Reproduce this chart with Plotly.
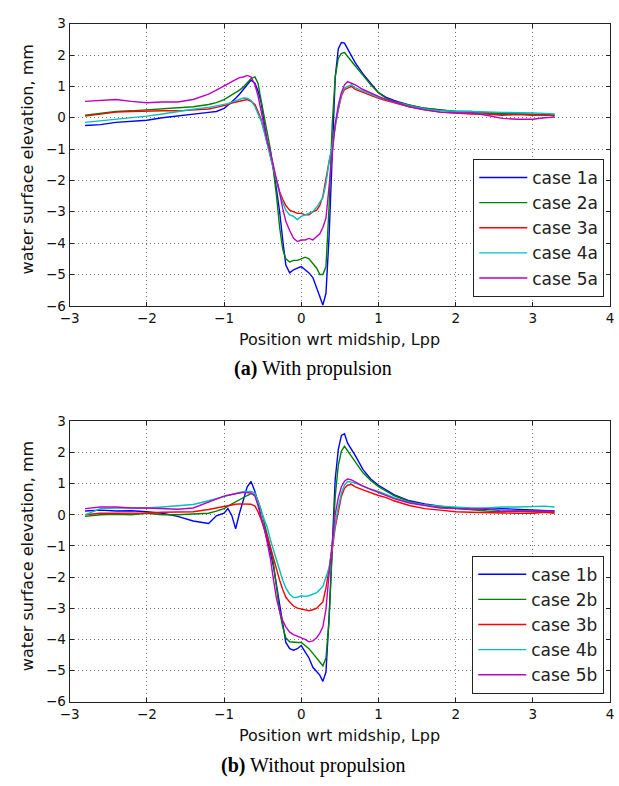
import plotly.graph_objects as go

# Position wrt midship (Lpp) - common sampling for all series
X = [-2.8, -2.6, -2.4, -2.2, -2.0, -1.8, -1.6, -1.4, -1.2,
     -1.1, -1.0,
     -0.95, -0.9, -0.85, -0.8, -0.75, -0.7, -0.65, -0.6,
     -0.56, -0.52, -0.48, -0.44, -0.4, -0.36, -0.32, -0.28, -0.24, -0.2,
     -0.15, -0.1, -0.05, 0.0, 0.05, 0.1, 0.15, 0.2,
     0.24, 0.28, 0.32, 0.36, 0.4, 0.44, 0.48, 0.52, 0.56, 0.6,
     0.65, 0.7, 0.8, 0.9, 1.0, 1.1, 1.2,
     1.4, 1.6, 1.8, 2.0, 2.2, 2.4, 2.6, 2.8, 3.0,
     3.15, 3.28]

# (a) With propulsion
case_1a = [-0.25, -0.22, -0.15, -0.12, -0.08, 0.0, 0.05, 0.1, 0.17,
           0.2, 0.3,
           0.4, 0.5, 0.62, 0.75, 0.9, 1.05, 1.2, 1.1,
           0.85, 0.5, -0.15, -0.8, -1.1, -1.6, -2.3, -3.0, -3.9, -4.7,
           -4.95, -4.85, -4.8, -4.75, -4.85, -4.95, -5.1, -5.4,
           -5.7, -5.98, -5.6, -3.8, -0.9, 1.3, 2.2, 2.4, 2.38, 2.2,
           1.95, 1.75, 1.4, 1.1, 0.8, 0.65, 0.55,
           0.4, 0.3, 0.25, 0.2, 0.2, 0.15, 0.12, 0.12, 0.1,
           0.1, 0.08]
case_2a = [0.08, 0.15, 0.2, 0.22, 0.25, 0.28, 0.3, 0.35, 0.42,
           0.48, 0.58,
           0.65, 0.72, 0.8, 0.88, 0.98, 1.1, 1.25, 1.3,
           1.1, 0.55, 0.0, -0.55, -1.0, -1.7, -2.5, -3.5, -4.2, -4.5,
           -4.6, -4.55, -4.55, -4.5, -4.45, -4.5, -4.65, -4.8,
           -5.0, -5.0, -4.75, -2.85, -0.25, 1.3, 1.9, 2.05, 2.08, 1.95,
           1.8, 1.65, 1.35, 1.05, 0.8, 0.62, 0.52,
           0.4, 0.3, 0.25, 0.2, 0.18, 0.15, 0.12, 0.12, 0.1,
           0.1, 0.08]
case_3a = [0.05, 0.12, 0.18, 0.2, 0.22, 0.22, 0.22, 0.25, 0.28,
           0.33, 0.38,
           0.42, 0.47, 0.5, 0.53, 0.55, 0.58, 0.52, 0.42,
           0.2, -0.05, -0.4, -0.85, -1.3, -1.65, -2.0, -2.35, -2.6, -2.8,
           -2.95, -3.0, -3.05, -3.05, -3.1, -3.1, -3.0, -2.95,
           -2.8, -2.5, -1.9, -1.4, -0.95, -0.25, 0.25, 0.7, 0.9, 0.95,
           1.0, 0.9, 0.8, 0.7, 0.62, 0.55, 0.48,
           0.35, 0.25, 0.18, 0.15, 0.12, 0.12, 0.08, 0.1, 0.08,
           0.1, 0.05]
case_4a = [-0.15, -0.1, -0.05, -0.02, 0.05, 0.12, 0.2, 0.27, 0.33,
           0.37, 0.42,
           0.45, 0.5, 0.55, 0.6, 0.63, 0.62, 0.55, 0.35,
           0.1, -0.1, -0.45, -0.85, -1.25, -1.6, -2.0, -2.4, -2.7, -2.95,
           -3.1, -3.15, -3.25, -3.15, -3.1, -3.05, -3.0, -2.85,
           -2.7, -2.55, -2.1, -1.4, -0.9, -0.3, 0.3, 0.75, 0.95, 1.0,
           1.05, 0.95, 0.85, 0.75, 0.65, 0.58, 0.5,
           0.38, 0.28, 0.22, 0.2, 0.18, 0.18, 0.17, 0.15, 0.15,
           0.14, 0.12]
case_5a = [0.52, 0.55, 0.58, 0.52, 0.48, 0.5, 0.5, 0.58, 0.75,
           0.88, 1.0,
           1.08, 1.15, 1.22, 1.28, 1.3, 1.35, 1.3, 1.05,
           0.7, 0.2, -0.3, -0.75, -1.1, -1.5, -1.9, -2.4, -2.9, -3.3,
           -3.6, -3.85, -3.95, -3.9, -3.9, -3.85, -3.9, -3.8,
           -3.7, -3.5, -3.2, -2.2, -1.1, -0.2, 0.4, 0.8, 1.05, 1.15,
           1.1, 1.05, 0.9, 0.78, 0.68, 0.58, 0.5,
           0.35, 0.25, 0.18, 0.15, 0.15, 0.08, -0.02, -0.05, -0.05,
           0.0, 0.02]

# (b) Without propulsion
case_1b = [0.12, 0.15, 0.12, 0.13, 0.1, 0.05, -0.05, -0.2, -0.28,
           -0.03, 0.05,
           0.2, -0.02, -0.45, 0.05, 0.5, 0.9, 1.07, 0.75,
           0.4, -0.1, -0.45, -0.82, -1.2, -1.66, -2.3, -2.95, -3.6, -4.1,
           -4.3, -4.35, -4.3, -4.2, -4.4, -4.6, -4.9, -5.05,
           -5.15, -5.35, -5.05, -3.3, -0.95, 1.15, 2.1, 2.55, 2.6, 2.3,
           2.1, 1.9, 1.45, 1.15, 0.95, 0.8, 0.65,
           0.45, 0.35, 0.28, 0.22, 0.2, 0.18, 0.2, 0.18, 0.15,
           0.15, 0.12]
case_2b = [-0.05, 0.0, 0.02, 0.0, 0.05, 0.0, 0.0, 0.02, 0.05,
           0.12, 0.2,
           0.28, 0.35, 0.42, 0.5, 0.55, 0.62, 0.68, 0.65,
           0.45, 0.15, -0.25, -0.65, -1.05, -1.56, -2.3, -3.1, -3.6, -3.95,
           -4.08, -4.1, -4.1, -4.1, -4.2, -4.3, -4.45, -4.6,
           -4.75, -4.85, -4.6, -3.4, -1.2, 0.6, 1.6, 2.05, 2.2, 2.05,
           1.85, 1.7, 1.35, 1.1, 0.9, 0.75, 0.62,
           0.42, 0.32, 0.25, 0.2, 0.15, 0.12, 0.1, 0.12, 0.1,
           0.1, 0.08]
case_3b = [0.0, 0.05, 0.05, 0.05, 0.06, 0.08, 0.08, 0.1, 0.17,
           0.22, 0.27,
           0.3, 0.32, 0.34, 0.35, 0.35, 0.35, 0.34, 0.28,
           0.1, -0.15, -0.4, -0.7, -1.03, -1.4, -1.77, -2.1, -2.4, -2.65,
           -2.8, -2.93, -3.0, -3.03, -3.05, -3.08, -3.05, -3.0,
           -2.9, -2.8, -2.35, -1.8, -1.14, -0.4, 0.15, 0.6, 0.85, 0.95,
           0.98, 0.9, 0.8, 0.7, 0.62, 0.55, 0.45,
           0.3, 0.2, 0.15, 0.1, 0.08, 0.08, 0.06, 0.05, 0.05,
           0.08, 0.05]
case_4b = [0.0, 0.2, 0.22, 0.22, 0.22, 0.25, 0.28, 0.33, 0.45,
           0.52, 0.58,
           0.62, 0.66, 0.7, 0.72, 0.74, 0.75, 0.75, 0.7,
           0.45, 0.15, -0.15, -0.4, -0.8, -1.14, -1.45, -1.77, -2.1, -2.35,
           -2.55, -2.66, -2.65, -2.6, -2.62, -2.6, -2.55, -2.5,
           -2.4, -2.3, -2.0, -1.7, -1.03, -0.3, 0.25, 0.7, 0.95, 1.07,
           1.05, 1.02, 0.92, 0.82, 0.75, 0.65, 0.55,
           0.4, 0.32, 0.28, 0.25, 0.22, 0.22, 0.25, 0.25, 0.27,
           0.28, 0.25]
case_5b = [0.2, 0.25, 0.25, 0.22, 0.22, 0.2, 0.18, 0.22, 0.42,
           0.52, 0.6,
           0.63, 0.66, 0.68, 0.7, 0.72, 0.72, 0.7, 0.6,
           0.3, -0.1, -0.4, -0.9, -1.4, -2.08, -2.7, -3.1, -3.4, -3.6,
           -3.77, -3.85, -3.9, -3.93, -4.0, -4.08, -4.05, -3.95,
           -3.8, -3.6, -3.03, -1.9, -0.9, 0.02, 0.55, 0.9, 1.08, 1.15,
           1.12, 1.05, 0.92, 0.82, 0.72, 0.62, 0.52,
           0.38, 0.3, 0.22, 0.2, 0.18, 0.2, 0.12, 0.12, 0.12,
           0.12, 0.12]

names_a = ["case 1a", "case 2a", "case 3a", "case 4a", "case 5a"]
names_b = ["case 1b", "case 2b", "case 3b", "case 4b", "case 5b"]
series_a = [case_1a, case_2a, case_3a, case_4a, case_5a]
series_b = [case_1b, case_2b, case_3b, case_4b, case_5b]
colors = ["#0000ff", "#008000", "#ff0000", "#00bfbf", "#bf00bf"]

x_ticks = [-3, -2, -1, 0, 1, 2, 3, 4]
y_ticks = [-6, -5, -4, -3, -2, -1, 0, 1, 2, 3]

W, H = 619, 786
fig = go.Figure()
for i, (nm, ys) in enumerate(zip(names_a, series_a)):
    fig.add_trace(go.Scatter(x=X, y=ys, mode="lines", name=nm,
                             line=dict(color=colors[i], width=1.4),
                             xaxis="x", yaxis="y", legend="legend",
                             legendgroup="a" + str(i)))
for i, (nm, ys) in enumerate(zip(names_b, series_b)):
    fig.add_trace(go.Scatter(x=X, y=ys, mode="lines", name=nm,
                             line=dict(color=colors[i], width=1.4),
                             xaxis="x2", yaxis="y2", legend="legend2",
                             legendgroup="b" + str(i)))

px_l, px_r = 61, 614
top_t, top_b = 16, 304
bot_t, bot_b = 422, 708

def fx(p):
    return p / W

def fy(p):
    return 1 - p / H

axis_common = dict(
    showline=True, linecolor="#222222", linewidth=1, mirror="allticks",
    ticks="inside", ticklen=4, tickcolor="#222222",
    showgrid=True, gridcolor="#777777", griddash="1px,3px", gridwidth=1,
    zeroline=False, tickfont=dict(family="DejaVu Sans", size=13.5, color="#111"),
)

legend_common = dict(
    xanchor="right", yanchor="bottom",
    bgcolor="white", bordercolor="#222", borderwidth=1,
    font=dict(family="DejaVu Sans", size=17, color="#222"),
    tracegroupgap=0, traceorder="grouped", itemwidth=48,
)

fig.update_layout(
    width=W, height=H,
    margin=dict(l=0, r=0, t=0, b=0),
    paper_bgcolor="white", plot_bgcolor="white",
    xaxis=dict(domain=[fx(px_l), fx(px_r)], range=[-3, 4], tickvals=x_ticks,
               anchor="y", **axis_common),
    yaxis=dict(domain=[fy(top_b), fy(top_t)], range=[-6, 3], tickvals=y_ticks,
               anchor="x", **axis_common),
    xaxis2=dict(domain=[fx(px_l), fx(px_r)], range=[-3, 4], tickvals=x_ticks,
                anchor="y2", **axis_common),
    yaxis2=dict(domain=[fy(bot_b), fy(bot_t)], range=[-6, 3], tickvals=y_ticks,
                anchor="x2", **axis_common),
    legend=dict(x=fx(608), y=fy(295), **legend_common),
    legend2=dict(x=fx(608), y=fy(700), **legend_common),
)

ann = []
for (t, b, xt, cap, capy) in [
        (top_t, top_b, 338, "<b>(a)</b> With propulsion", 368),
        (bot_t, bot_b, 743, "<b>(b)</b> Without propulsion", 773)]:
    ann.append(dict(text="water surface elevation, mm", textangle=-90,
                    x=fx(18), y=fy((t + b) / 2 - 5), xref="paper", yref="paper",
                    showarrow=False, xanchor="center", yanchor="middle",
                    font=dict(family="DejaVu Sans", size=16, color="#111")))
    ann.append(dict(text="Position wrt midship, Lpp",
                    x=fx((px_l + px_r) / 2), y=fy(xt), xref="paper", yref="paper",
                    showarrow=False, xanchor="center", yanchor="middle",
                    font=dict(family="DejaVu Sans", size=16, color="#111")))
    ann.append(dict(text=cap, x=fx(310), y=fy(capy), xref="paper", yref="paper",
                    showarrow=False, xanchor="center", yanchor="middle",
                    font=dict(family="Liberation Serif", size=20, color="#000")))
fig.update_layout(annotations=ann)

fig.write_html("out.html")
